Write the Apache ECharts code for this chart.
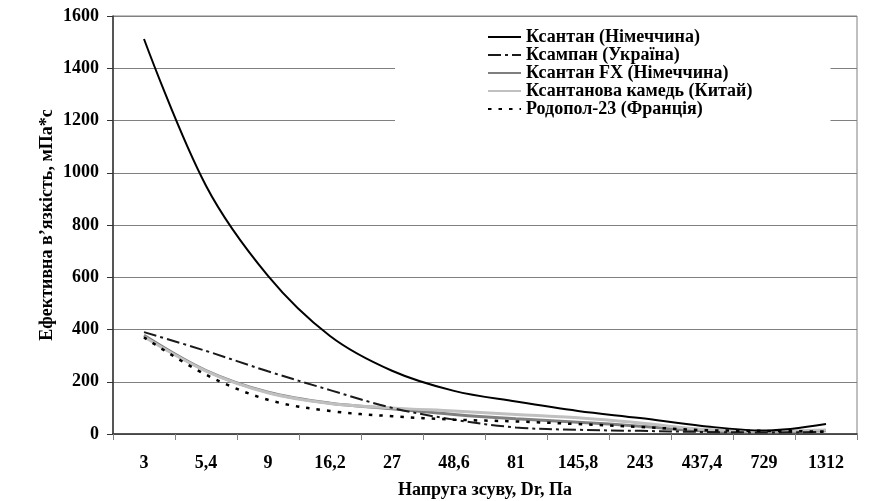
<!DOCTYPE html>
<html>
<head>
<meta charset="utf-8">
<script src="https://cdn.jsdelivr.net/npm/echarts@6/dist/echarts.min.js"></script>
<style>html,body{margin:0;padding:0;background:#fff;}#c{width:875px;height:501px;}</style>
</head>
<body>
<div id="c"></div>
<script>
const categories = ['3','5,4','9','16,2','27','48,6','81','145,8','243','437,4','729','1312'];
const seriesNames = ['Ксантан (Німеччина)','Ксампан (Україна)','Ксантан FX (Німеччина)','Ксантанова камедь (Китай)','Родопол-23 (Франція)'];
const xanthanDE   = [1512, 950, 605, 375, 242, 165, 124, 88, 61, 31, 13, 38];
const ksampanUA   = [390, 318, 240, 168, 100, 55, 25, 16, 12, 8, 6, 8];
const xanthanFX   = [378, 243, 160, 118, 97, 75, 58, 45, 30, 12, 8, 12];
const xanthanCN   = [372, 241, 158, 117, 100, 88, 75, 62, 42, 18, 10, 15];
const rhodopol    = [370, 227, 131, 88, 68, 55, 48, 38, 27, 15, 12, 9];
const yTicks = {min: 0, max: 1600, interval: 200};

const font = '"Liberation Serif", "Times New Roman", serif';
const chart = echarts.init(document.getElementById('c'), null, {renderer: 'canvas'});
function mk(name, data, color, width, type, z) {
  return {name, type: 'line', data, smooth: 0.35, symbol: 'none', showSymbol: false, z,
    lineStyle: {color, width, type}, itemStyle: {color: 'rgba(0,0,0,0)', borderWidth: 0}};
}
chart.setOption({
  animation: false,
  backgroundColor: '#fff',
  textStyle: {fontFamily: font},
  grid: {left: 113, right: 18, top: 16, bottom: 67, containLabel: false, outerBoundsMode: 'none',
    show: true, borderColor: '#808080', borderWidth: 1},
  legend: {
    orient: 'vertical', left: 395, top: 26,
    padding: [2, 78, 4, 92],
    backgroundColor: '#fff',
    itemWidth: 33, itemHeight: 14, itemGap: 0,
    itemStyle: {color: 'rgba(0,0,0,0)', borderWidth: 0, opacity: 0},
    textStyle: {fontFamily: font, fontWeight: 'bold', fontSize: 18, lineHeight: 15, color: '#000'},
    data: seriesNames
  },
  xAxis: {
    type: 'category', data: categories, boundaryGap: true,
    name: 'Напруга зсуву, Dr, Па', nameLocation: 'middle', nameGap: 47, nameMoveOverlap: false,
    nameTextStyle: {fontFamily: font, fontWeight: 'bold', fontSize: 18, color: '#000'},
    axisLine: {lineStyle: {color: '#333', width: 1.5}},
    axisTick: {show: true, alignWithLabel: false, interval: 0, length: 6, lineStyle: {color: '#808080'}},
    axisLabel: {interval: 0, margin: 20, fontFamily: font, fontWeight: 'bold', fontSize: 18, color: '#000'},
    splitLine: {show: false}
  },
  yAxis: {
    type: 'value', min: yTicks.min, max: yTicks.max, interval: yTicks.interval,
    name: 'Ефективна в’язкість, мПа*с', nameLocation: 'middle', nameGap: 57, nameRotate: 90, nameMoveOverlap: false,
    nameTextStyle: {fontFamily: font, fontWeight: 'bold', fontSize: 18, color: '#000'},
    axisLine: {show: true, lineStyle: {color: '#333', width: 1.5}},
    axisTick: {show: true, length: 6, lineStyle: {color: '#333'}},
    axisLabel: {margin: 14, fontFamily: font, fontWeight: 'bold', fontSize: 18, color: '#000',
      formatter: v => String(v)},
    splitLine: {show: true, lineStyle: {color: '#808080', width: 1}}
  },
  series: [
    mk(seriesNames[0], xanthanDE, '#000000', 2, 'solid', 5),
    mk(seriesNames[1], ksampanUA, '#1a1a1a', 2, [13, 4, 3, 4], 4),
    mk(seriesNames[2], xanthanFX, '#7f7f7f', 3, 'solid', 2),
    mk(seriesNames[3], xanthanCN, '#c0c0c0', 3, 'solid', 3),
    mk(seriesNames[4], rhodopol, '#000000', 2.5, [3.5, 7], 6)
  ]
});
</script>
</body>
</html>
